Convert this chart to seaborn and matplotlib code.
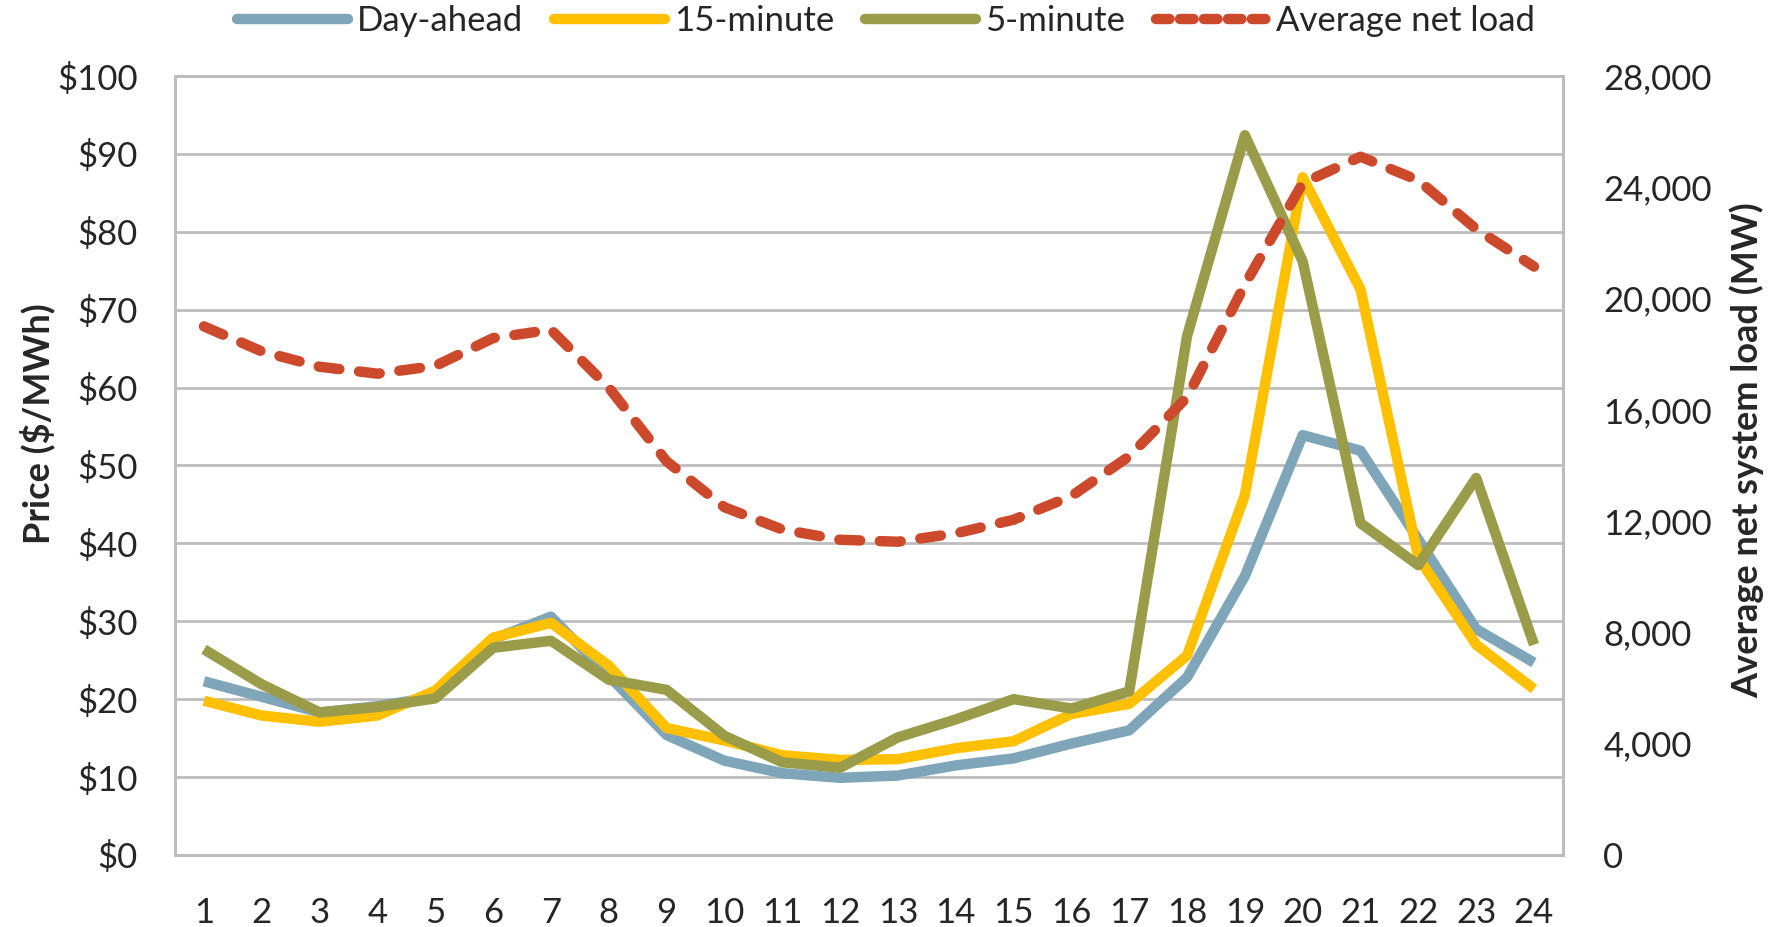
import numpy as np
import pandas as pd
import seaborn as sns
import matplotlib.pyplot as plt
from matplotlib.lines import Line2D
from matplotlib.ticker import FixedLocator, FuncFormatter

# 数据
hours = list(range(1, 25))
day_ahead = [22.3, 20.3, 18.3, 19.1, 20.3, 27.7, 30.6, 23.0, 15.4, 12.1, 10.5, 9.9,
             10.2, 11.5, 12.4, 14.3, 16.0, 22.8, 35.8, 53.9, 51.9, 40.5, 29.0, 24.7]
fifteen_min = [19.8, 17.9, 17.1, 17.9, 21.1, 27.9, 29.8, 24.3, 16.3, 14.7, 12.8, 12.2,
               12.3, 13.7, 14.6, 18.1, 19.4, 25.6, 46.2, 87.0, 72.6, 38.2, 27.0, 21.3]
five_min = [26.4, 21.9, 18.3, 19.0, 20.1, 26.6, 27.5, 22.5, 21.2, 15.3, 11.9, 11.2,
            15.1, 17.4, 20.0, 18.8, 21.0, 66.6, 92.4, 76.2, 42.6, 37.2, 48.4, 27.0]
net_load = [19000, 18100, 17550, 17300, 17580, 18580, 18880, 16800, 14150, 12500, 11700, 11330,
            11260, 11560, 12050, 12900, 14330, 16450, 20500, 24150, 25100, 24250, 22500, 21150]

series_names = ['Day-ahead', '15-minute', '5-minute']
colors = {'Day-ahead': '#7fa5b9', '15-minute': '#ffc000', '5-minute': '#9a9c4a'}
load_color = '#cc4a2b'

df = pd.DataFrame({'Hour': hours * 3,
                   'Price': day_ahead + fifteen_min + five_min,
                   'Series': [s for s in series_names for _ in hours]})
df_load = pd.DataFrame({'Hour': hours, 'Load': net_load})

sns.set_style('white')
plt.rcParams['font.family'] = ['Lato', 'DejaVu Sans']

fig = plt.figure(figsize=(17.72, 9.27), dpi=100)
ax = fig.add_axes([0.0988, 0.0777, 0.7832, 0.8403])
ax2 = ax.twinx()

LW = 7.5
sns.lineplot(data=df_load, x='Hour', y='Load', ax=ax2, color=load_color, lw=LW,
             linestyle=(0, (2.0, 1.9)), dash_capstyle='round', legend=False)
sns.lineplot(data=df, x='Hour', y='Price', hue='Series', palette=colors, ax=ax, lw=LW,
             legend=False, solid_capstyle='butt')
# 负荷虚线画在价格线上面
ax.set_zorder(1)
ax2.set_zorder(2)
ax2.patch.set_visible(False)

grid_c = '#bdbdbd'
ax.set_xlim(0.5, 24.5)
ax.set_ylim(0, 100)
ax2.set_ylim(0, 28000)
ax.set_yticks(np.arange(0, 101, 10))
ax.yaxis.set_major_formatter(FuncFormatter(lambda v, p: f'${v:.0f}'))
ax2.set_yticks(np.arange(0, 28001, 4000))
ax2.yaxis.set_major_formatter(FuncFormatter(lambda v, p: f'{v:,.0f}'))
ax.set_xticks(hours)
ax.xaxis.set_minor_locator(FixedLocator(np.arange(0.5, 25, 1)))
ax.tick_params(axis='x', which='major', length=0, labelsize=25, pad=30)
ax.tick_params(axis='x', which='minor', length=10, width=2, color=grid_c)
ax.tick_params(axis='y', length=0, labelsize=25, pad=27)
ax2.tick_params(axis='y', length=0, labelsize=25, pad=29)
ax.grid(axis='y', color=grid_c, lw=2)
for a in (ax, ax2):
    for sp in a.spines.values():
        sp.set_color(grid_c)
        sp.set_linewidth(2)

ax.set_xlabel('')
ax.set_ylabel('Price ($/MWh)', fontsize=26, fontweight='bold')
ax.yaxis.set_label_coords(-0.086, 0.554)
ax2.set_ylabel('Average net system load (MW)', fontsize=26, fontweight='bold')
ax2.yaxis.set_label_coords(1.12, 0.52)

handles = [Line2D([], [], color=colors[s], lw=LW, solid_capstyle='round') for s in series_names]
handles.append(Line2D([], [], color=load_color, lw=LW, linestyle=(0, (1.3, 1.0)), dash_capstyle='round'))
fig.legend(handles, series_names + ['Average net load'], loc='center', bbox_to_anchor=(0.5, 0.977),
           ncol=4, frameon=False, fontsize=25, handlelength=3.2, columnspacing=0.9, handletextpad=0.25,
           borderpad=0.1)

plt.savefig('out.png', dpi=100)
